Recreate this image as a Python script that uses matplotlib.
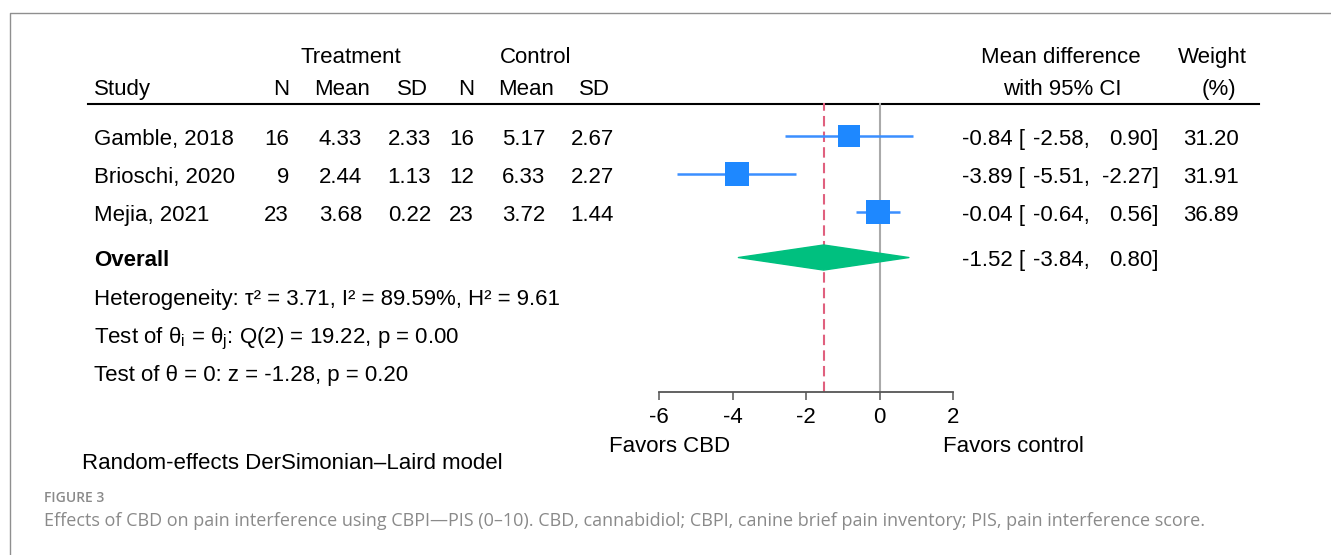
import matplotlib.pyplot as plt
from matplotlib.patches import Polygon

# figure size in pixels
W, H = 1331, 555

# study data
studies = ['Gamble, 2018', 'Brioschi, 2020', 'Mejia, 2021']
trt_n = [16, 9, 23]
trt_mean = [4.33, 2.44, 3.68]
trt_sd = [2.33, 1.13, 0.22]
ctl_n = [16, 12, 23]
ctl_mean = [5.17, 6.33, 3.72]
ctl_sd = [2.67, 2.27, 1.44]
md = [-0.84, -3.89, -0.04]
md_lo = [-2.58, -5.51, -0.64]
md_hi = [0.90, -2.27, 0.56]
weight = [31.20, 31.91, 36.89]

# pooled result and tests
overall_md, overall_lo, overall_hi = -1.52, -3.84, 0.80
tau2, i2, h2 = 3.71, 89.59, 9.61
q_df, q_stat, q_p = 2, 19.22, 0.00
z_stat, z_p = -1.28, 0.20
x_ticks = [-6, -4, -2, 0, 2]

plt.rcParams['font.family'] = ['Liberation Sans', 'DejaVu Sans']
plt.rcParams['mathtext.fontset'] = 'custom'
plt.rcParams['mathtext.rm'] = 'Liberation Sans'
plt.rcParams['axes.unicode_minus'] = False

FS = 16
BLUE = '#1e88ff'
GREEN = '#00c07f'
RED = '#e0607e'
CAPTION = '#8a8a8a'

fig = plt.figure(figsize=(W / 100, H / 100), dpi=100)

# background axes in pixel units, used for the table text
bg = fig.add_axes([0, 0, 1, 1])
bg.set_xlim(0, W)
bg.set_ylim(H, 0)
bg.axis('off')

def txt(x, y, s, ha='left', **kw):
    # y is the middle of the capital letters
    bg.text(x, y + 8, s, ha=ha, va='baseline', fontsize=kw.pop('fontsize', FS), **kw)

# frame of the figure panel
bg.plot([9.5, 9.5, W], [H, 12.5, 12.5], color='#8f8f8f', lw=1)

# headers
txt(351, 55, 'Treatment', ha='center')
txt(536, 55, 'Control', ha='center')
txt(1061, 55, 'Mean difference', ha='center')
txt(1212, 55, 'Weight', ha='center')
txt(94, 87, 'Study')
for x, s in zip([289, 370, 428, 474, 554, 610], ['N', 'Mean', 'SD', 'N', 'Mean', 'SD']):
    txt(x, 87, s, ha='right')
txt(1062, 87, 'with 95% CI', ha='center')
txt(1219, 87, '(%)', ha='center')
bg.plot([88, 1259], [103.5, 103.5], color='black', lw=1.5)

row_y = [137, 175, 213]
overall_y = 258

for i, y in enumerate(row_y):
    txt(94, y, studies[i])
    txt(289, y, f'{trt_n[i]}', ha='right')
    txt(362, y, f'{trt_mean[i]:.2f}', ha='right')
    txt(431, y, f'{trt_sd[i]:.2f}', ha='right')
    txt(474, y, f'{ctl_n[i]}', ha='right')
    txt(545, y, f'{ctl_mean[i]:.2f}', ha='right')
    txt(614, y, f'{ctl_sd[i]:.2f}', ha='right')
    txt(1025, y, f'{md[i]:.2f} [', ha='right')
    txt(1089.5, y, f'{md_lo[i]:.2f},', ha='right')
    txt(1158.5, y, f'{md_hi[i]:.2f}]', ha='right')
    txt(1239, y, f'{weight[i]:.2f}', ha='right')

txt(94, overall_y, 'Overall', fontweight='bold')
txt(1025, overall_y, f'{overall_md:.2f} [', ha='right')
txt(1089.5, overall_y, f'{overall_lo:.2f},', ha='right')
txt(1158.5, overall_y, f'{overall_hi:.2f}]', ha='right')

txt(94, 297, f'Heterogeneity: τ² = {tau2:.2f}, I² = {i2:.2f}%, H² = {h2:.2f}')
txt(94, 335, r'Test of θ$_\mathregular{i}$ = θ$_\mathregular{j}$: '
    + f'Q({q_df}) = {q_stat:.2f}, p = {q_p:.2f}')
txt(94, 373, f'Test of θ = 0: z = {z_stat:.2f}, p = {z_p:.2f}')

txt(609, 444, 'Favors CBD')
txt(943, 444, 'Favors control')
txt(82, 461, 'Random-effects DerSimonian–Laird model')

# caption
bg.text(44, 502, 'FIGURE 3', ha='left', va='baseline', fontsize=10,
        family='Open Sans', fontweight='semibold', color=CAPTION)
bg.text(44, 526, 'Effects of CBD on pain interference using CBPI—PIS (0–10). CBD, cannabidiol; '
        'CBPI, canine brief pain inventory; PIS, pain interference score.',
        ha='left', va='baseline', fontsize=13, family='Open Sans', color=CAPTION)

# forest plot axes: x in data units, y in pixel rows of the background
ax = fig.add_axes([659 / W, 1 - 392 / H, 294 / W, (392 - 103) / H])
ax.set_xlim(-6, 2)
ax.set_ylim(392, 104)
ax.patch.set_alpha(0)
for side in ['top', 'right', 'left']:
    ax.spines[side].set_visible(False)
ax.spines['bottom'].set_color('#555555')
ax.spines['bottom'].set_linewidth(1.3)
ax.set_yticks([])
ax.set_xticks(x_ticks)
ax.set_xticklabels([str(t) for t in x_ticks])
ax.tick_params(axis='x', direction='out', length=6, width=1.1, color='#555555',
               labelsize=FS, pad=5)

ax.axvline(0, color='#aaaaaa', lw=1.5, zorder=1)
ax.axvline(overall_md, color=RED, lw=1.5, ls=(0, (5, 2.5)), zorder=1)

for i, y in enumerate(row_y):
    ax.plot([md_lo[i], md_hi[i]], [y, y], color='#3b8fff', lw=1.8, zorder=2,
            solid_capstyle='butt', clip_on=False)
    ax.plot(md[i], y, marker='s', ms=2.96 * weight[i] ** 0.5, mew=0, color=BLUE,
            zorder=3, clip_on=False)

diamond = Polygon([[overall_lo, overall_y], [overall_md, overall_y - 12.5],
                   [overall_hi, overall_y], [overall_md, overall_y + 12.5]],
                  closed=True, facecolor=GREEN, edgecolor=GREEN, lw=1,
                  joinstyle='round', zorder=3, clip_on=False)
ax.add_patch(diamond)

fig.savefig('out.png', dpi=100)
